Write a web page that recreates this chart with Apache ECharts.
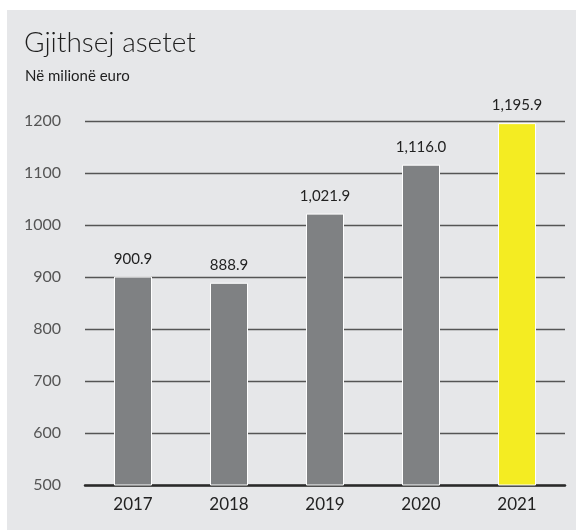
<!DOCTYPE html>
<html>
<head>
<meta charset="utf-8">
<script src="https://cdn.jsdelivr.net/npm/echarts@6/dist/echarts.min.js"></script>
<style>
  html, body { margin: 0; padding: 0; background: #ffffff; }
  #chart { width: 576px; height: 530px; }
</style>
</head>
<body>
<div id="chart"></div>
<script>
// Total assets by year (EUR millions)
const years = ['2017', '2018', '2019', '2020', '2021'];
const assets = [900.9, 888.9, 1021.9, 1116.0, 1195.9];
const barColors = ['#7f8183', '#7f8183', '#7f8183', '#7f8183', '#f4ec22'];
const yTicks = { min: 500, max: 1200, step: 100 };

const fontFamily = 'Lato, "Noto Sans", sans-serif';

function fmt(v) {
  return v.toLocaleString('en-US', { minimumFractionDigits: 1, maximumFractionDigits: 1 });
}

const chart = echarts.init(document.getElementById('chart'), null, { renderer: 'canvas' });

chart.setOption({
  backgroundColor: '#ffffff',
  animation: false,
  graphic: [
    {
      type: 'rect',
      z: -10,
      shape: { x: 7, y: 10, width: 569, height: 520 },
      style: { fill: '#e6e7e9' }
    },
    {
      type: 'text',
      left: 24, top: 29,
      style: { text: 'Gjithsej asetet', fill: '#1e1e1e', font: '300 28px ' + fontFamily }
    },
    {
      type: 'text',
      left: 25, top: 69,
      style: { text: 'Në milionë euro', fill: '#1e1e1e', font: '15px ' + fontFamily }
    }
  ],
  grid: { left: 85, top: 121, width: 480, height: 364 },
  xAxis: {
    type: 'category',
    data: years,
    axisLine: { show: true, lineStyle: { color: '#2a2a2a', width: 2.5 } },
    axisTick: { show: false },
    axisLabel: { color: '#222', fontSize: 17, fontFamily: fontFamily, margin: 11 }
  },
  yAxis: {
    type: 'value',
    min: yTicks.min,
    max: yTicks.max,
    interval: yTicks.step,
    axisLine: { show: false },
    axisTick: { show: false },
    axisLabel: {
      color: '#555', fontSize: 16, fontFamily: fontFamily, margin: 24,
      formatter: v => String(v)
    },
    splitLine: { lineStyle: { color: '#555', width: 1.3 } }
  },
  series: [{
    type: 'bar',
    data: assets.map((v, i) => ({ value: v, itemStyle: { color: barColors[i] } })),
    barWidth: 38,
    itemStyle: { borderColor: '#ffffff', borderWidth: 1 },
    label: {
      show: true,
      position: 'top',
      distance: 10,
      color: '#222',
      fontSize: 15,
      fontFamily: fontFamily,
      formatter: p => fmt(p.value)
    }
  }]
});
</script>
</body>
</html>
